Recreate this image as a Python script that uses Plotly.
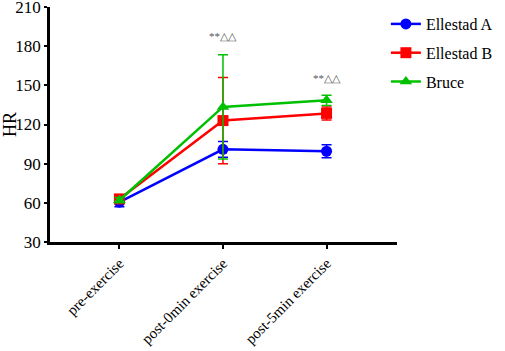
import plotly.graph_objects as go

categories = ["pre-exercise", "post-0min exercise", "post-5min exercise"]
ellestad_a = [60.5, 101, 99.5]
ellestad_a_err = [3.5, 6, 5]
ellestad_b = [63, 123, 128.5]
ellestad_b_err = [2, 33, 5]
bruce = [62, 133.5, 138.5]
bruce_err = [2, 40, 4]
sig_labels = ["", "**△△", "**△△"]
sig_y = [None, 188, 156]

series = [
    ("Ellestad A", ellestad_a, ellestad_a_err, "#0000FF", "circle"),
    ("Ellestad B", ellestad_b, ellestad_b_err, "#FF0000", "square"),
    ("Bruce", bruce, bruce_err, "#00C000", "triangle-up"),
]

fig = go.Figure()
for name, vals, errs, color, sym in series:
    fig.add_trace(go.Scatter(
        x=categories, y=vals, name=name, mode="lines+markers", legendgroup=name,
        line=dict(color=color, width=2.5),
        marker=dict(color=color, symbol=sym, size=11),
        error_y=dict(type="data", array=errs, visible=True, color=color,
                     thickness=1.5, width=5),
    ))

for c, lab, yv in zip(categories, sig_labels, sig_y):
    if lab:
        fig.add_annotation(x=c, y=yv, text=lab, showarrow=False,
                           font=dict(family="Liberation Serif", size=11, color="#555555"))

fig.update_layout(
    width=505, height=351,
    margin=dict(l=50, r=100, t=7, b=109),
    paper_bgcolor="white", plot_bgcolor="white",
    font=dict(family="Liberation Serif", color="black"),
    showlegend=True,
    legend=dict(x=0.968, y=1.0, xanchor="left", yanchor="top",
                font=dict(size=16, family="Liberation Serif"),
                itemwidth=30, tracegroupgap=5, bgcolor="rgba(0,0,0,0)"),
)
fig.update_xaxes(
    type="category", range=[-0.67, 2.68], automargin=False,
    showline=True, linecolor="black", linewidth=2.5,
    ticks="outside", ticklen=4, tickwidth=2, tickcolor="black",
    tickangle=-45, tickfont=dict(size=15, family="Liberation Serif"),
    showgrid=False, zeroline=False,
)
fig.update_yaxes(
    range=[30, 210], tickvals=[30, 60, 90, 120, 150, 180, 210], automargin=False,
    ticklabeloverflow="allow",
    showline=True, linecolor="black", linewidth=2.5,
    ticks="outside", ticklen=3, tickwidth=2, tickcolor="black",
    tickfont=dict(size=17, family="Liberation Serif"),
    title=dict(text="HR", font=dict(size=18, family="Liberation Serif"), standoff=6),
    showgrid=False, zeroline=False,
)

fig.write_html("out.html", config={"displayModeBar": False},
               post_script="document.body.style.margin='0';document.body.style.overflow='hidden';")
